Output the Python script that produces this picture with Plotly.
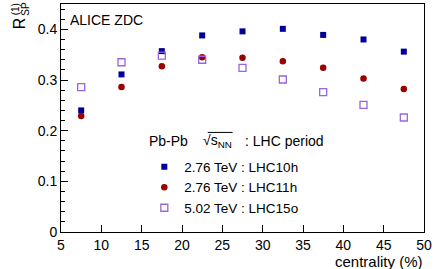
import plotly.graph_objects as go

centrality = [7.5, 12.5, 17.5, 22.5, 27.5, 32.5, 37.5, 42.5, 47.5]
r_lhc10h = [0.240, 0.311, 0.357, 0.388, 0.396, 0.401, 0.389, 0.380, 0.356]
r_lhc11h = [0.229, 0.286, 0.327, 0.345, 0.344, 0.337, 0.324, 0.303, 0.282]
r_lhc15o = [0.286, 0.335, 0.348, 0.340, 0.324, 0.301, 0.276, 0.251, 0.226]
labels = ["2.76 TeV : LHC10h", "2.76 TeV : LHC11h", "5.02 TeV : LHC15o"]

W, H = 435, 269
L, R, T, B = 61, 8, 3, 37
PW, PH = W - L - R, H - T - B

def px(x):
    return (x - L) / PW

def py(y):
    return (H - B - y) / PH

FONT = "Liberation Sans, Arial, sans-serif"

fig = go.Figure()
fig.add_trace(go.Scatter(x=centrality, y=r_lhc10h, mode="markers", name=labels[0],
                         marker=dict(symbol="square", size=6, color="#000099")))
fig.add_trace(go.Scatter(x=centrality, y=r_lhc11h, mode="markers", name=labels[1],
                         marker=dict(symbol="circle", size=6.5, color="#990000")))
fig.add_trace(go.Scatter(x=centrality, y=r_lhc15o, mode="markers", name=labels[2],
                         marker=dict(symbol="square-open", size=7, color="#9966dd",
                                     line=dict(width=1.3))))

fig.update_layout(
    width=W, height=H,
    margin=dict(l=L, r=R, t=T, b=B),
    paper_bgcolor="white", plot_bgcolor="white",
    font=dict(family=FONT, size=14, color="black"),
    showlegend=True,
    legend=dict(x=px(145), y=py(151), xanchor="left", yanchor="top",
                bgcolor="rgba(0,0,0,0)", borderwidth=0,
                font=dict(size=13.5), itemwidth=30, tracegroupgap=0),
    xaxis=dict(range=[5, 50], tickvals=[5, 10, 15, 20, 25, 30, 35, 40, 45, 50],
               ticks="inside", ticklen=7, tickwidth=1, tickcolor="black",
               showline=True, linecolor="black", linewidth=1, mirror=True,
               showgrid=False, zeroline=False, tickfont=dict(size=14)),
    yaxis=dict(range=[0, 0.45], tickvals=[0, 0.1, 0.2, 0.3, 0.4],
               ticktext=["0", "0.1", "0.2", "0.3", "0.4"],
               ticks="inside", ticklen=7, tickwidth=1, tickcolor="black",
               minor=dict(dtick=0.02, ticks="inside", ticklen=4, tickcolor="black", showgrid=False),
               showline=True, linecolor="black", linewidth=1, mirror=True,
               showgrid=False, zeroline=False, tickfont=dict(size=14)),
)

ann = [
    dict(text="centrality (%)", x=px(428), y=py(262), xanchor="right", yanchor="middle", font=dict(size=15)),
    dict(text="ALICE ZDC", x=px(68), y=py(19), xanchor="left", yanchor="middle", font=dict(size=14)),
    dict(text="R", x=px(20), y=py(22), xanchor="center", yanchor="middle", textangle=-90, font=dict(size=16)),
    dict(text="(1)", x=px(16), y=py(8), xanchor="center", yanchor="middle", textangle=-90, font=dict(size=10)),
    dict(text="SP", x=px(25.5), y=py(8), xanchor="center", yanchor="middle", textangle=-90, font=dict(size=10)),
    dict(text="Pb-Pb", x=px(148), y=py(141), xanchor="left", yanchor="middle", font=dict(size=14)),
    dict(text="√s<sub>NN</sub>", x=px(202), y=py(141), xanchor="left", yanchor="middle", font=dict(size=14)),
    dict(text=": LHC period", x=px(245), y=py(141), xanchor="left", yanchor="middle", font=dict(size=14)),
]
for a in ann:
    a.update(xref="paper", yref="paper", showarrow=False)
    fig.add_annotation(**a)

fig.add_shape(type="line", xref="paper", yref="paper", x0=px(209), x1=px(234), y0=py(132), y1=py(132),
              line=dict(color="black", width=1))

fig.write_html("out.html")
